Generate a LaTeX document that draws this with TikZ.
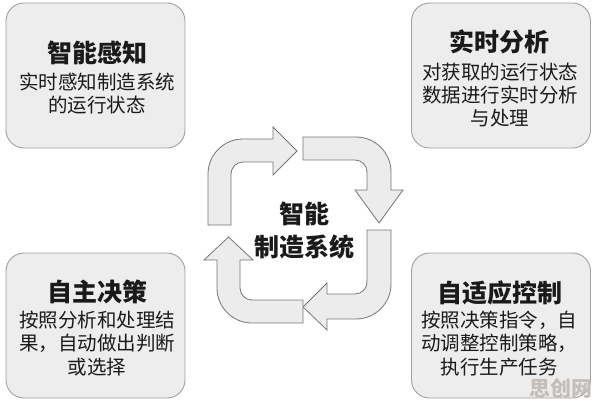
\documentclass[tikz,border=0pt]{standalone}
\usepackage{fontspec}
\newfontfamily\cjk{Noto Sans CJK SC}
\definecolor{boxfill}{HTML}{EDEDED}
\definecolor{boxline}{HTML}{A0A0A0}
\definecolor{arrfill}{HTML}{ECECEC}
\definecolor{arrline}{HTML}{777777}
\definecolor{txt}{HTML}{1A1A1A}
\definecolor{wm}{HTML}{C4BEBA}
\tikzset{
  card/.style={draw=boxline, fill=boxfill, line width=0.9pt, rounded corners=18pt,
    minimum width=179pt, minimum height=145pt, inner sep=0pt},
  cardtitle/.style={font=\cjk\bfseries\fontsize{25}{28}\selectfont, text=txt, inner sep=0pt},
  cardbody/.style={font=\cjk\fontsize{19.5}{23.3}\selectfont, text=txt, align=center, inner sep=0pt},
  cyclearrow/.style={draw=arrline, fill=arrfill, line width=0.8pt, line join=miter},
  centertext/.style={font=\cjk\bfseries\fontsize{25}{33}\selectfont, text=txt, align=center, inner sep=0pt},
}
\begin{document}
\begin{tikzpicture}[x=1pt,y=-1pt]
\useasboundingbox[fill=white] (0,0) rectangle (596,406);

% cards
\node[card] (c1) at (95.5,75.5) {};
\node[card] (c2) at (501,75.5) {};
\node[card] (c3) at (95.5,325.5) {};
\node[card] (c4) at (501,325.5) {};

\node[cardtitle] (t1) at (97,53) {智能感知};
\node[cardbody] (d1) at (97,93.5) {实时感知制造系统\\的运行状态};

\node[cardtitle] (t2) at (499,42) {实时分析};
\node[cardbody] (d2) at (500,95) {对获取的运行状态\\数据进行实时分析\\与处理};

\node[cardtitle] (t3) at (97,292) {自主决策};
\node[cardbody] (d3) at (97,343.5) {按照分析和处理结\\果，自动做出判断\\或选择};

\node[cardtitle] (t4) at (500,293) {自适应控制};
\node[cardbody] (d4) at (499,343.5) {按照决策指令，自\\动调整控制策略，\\执行生产任务};

% cycle arrows
% top-left
\draw[cyclearrow] (208,225) -- (208,174) .. controls (208,154.7) and (223.7,139) .. (243,139)
  -- (273,139) -- (273,127) -- (297,151) -- (273,175) -- (273,162) -- (243,162)
  .. controls (236.4,162) and (231,167.4) .. (231,174) -- (231,225) -- cycle;
% top-right
\draw[cyclearrow] (303,137) -- (356,137) .. controls (375.3,137) and (391,152.7) .. (391,172)
  -- (391,190) -- (403,190) -- (379,223) -- (355,190) -- (367,190) -- (367,172)
  .. controls (367,165.4) and (361.6,160) .. (355,160) -- (303,160) -- cycle;
% bottom-right
\draw[cyclearrow] (367,230) -- (391,230) -- (391,284) .. controls (391,303.3) and (375.3,319) .. (356,319)
  -- (327,319) -- (327,330) -- (303,307) -- (327,283) -- (327,294) -- (355,294)
  .. controls (361.6,294) and (367,288.6) .. (367,282) -- cycle;
% bottom-left
\draw[cyclearrow] (303,323) -- (252,323) .. controls (232.7,323) and (217,307.3) .. (217,288)
  -- (217,260) -- (204,260) -- (228.5,237) -- (253,260) -- (240,260) -- (240,288)
  .. controls (240,294.6) and (245.4,300) .. (252,300) -- (303,300) -- cycle;

\node[centertext] (ctr) at (304,231) {智能\\制造系统};

% watermark
\node[font=\cjk\bfseries\fontsize{21}{21}\selectfont, text=wm, inner sep=0pt] (wmk) at (561,388) {思创网};
\end{tikzpicture}
\end{document}
